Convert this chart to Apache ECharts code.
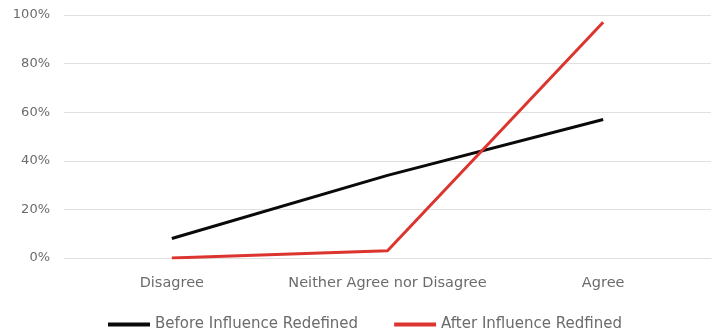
<!DOCTYPE html>
<html>
<head>
<meta charset="utf-8">
<script src="https://cdn.jsdelivr.net/npm/echarts@6/dist/echarts.min.js"></script>
<style>
  html, body { margin: 0; padding: 0; background: #fff; }
  #chart { width: 712px; height: 333px; }
</style>
</head>
<body>
<div id="chart"></div>
<script>
// Survey responses, share of respondents per answer
const categories = ['Disagree', 'Neither Agree nor Disagree', 'Agree'];
const beforeValues = [8, 34, 57];
const afterValues = [0, 3, 97];
const yTicks = [0, 20, 40, 60, 80, 100];
const seriesNames = ['Before Influence Redefined', 'After Influence Redfined'];

const chart = echarts.init(document.getElementById('chart'));
const textColor = '#6b6b6b';
const font = '"DejaVu Sans", sans-serif';

chart.setOption({
  animation: false,
  grid: { left: 64, right: 1, top: 15, bottom: 75 },
  legend: {
    bottom: -4,
    left: 103,
    itemWidth: 42,
    itemHeight: 4,
    itemGap: 36,
    icon: 'rect',
    textStyle: { color: textColor, fontSize: 15, fontFamily: font },
    data: seriesNames
  },
  xAxis: {
    type: 'category',
    data: categories,
    boundaryGap: true,
    axisLine: { show: true, lineStyle: { color: '#e0e0e0', width: 1 } },
    axisTick: { show: false },
    axisLabel: {
      color: textColor, fontSize: 14.5, fontFamily: font, margin: 18,
      interval: 0, hideOverlap: false
    }
  },
  yAxis: {
    type: 'value',
    min: yTicks[0],
    max: yTicks[yTicks.length - 1],
    interval: yTicks[1] - yTicks[0],
    axisLine: { show: false },
    axisTick: { show: false },
    splitLine: { lineStyle: { color: '#e0e0e0', width: 1 } },
    axisLabel: { color: textColor, fontSize: 13, fontFamily: font, margin: 14, formatter: '{value}%' }
  },
  series: [
    {
      name: seriesNames[0],
      type: 'line',
      data: beforeValues,
      symbol: 'none',
      lineStyle: { color: '#0a0a0a', width: 3 },
      itemStyle: { color: '#0a0a0a' }
    },
    {
      name: seriesNames[1],
      type: 'line',
      data: afterValues,
      symbol: 'none',
      lineStyle: { color: '#dc3530', width: 3 },
      itemStyle: { color: '#dc3530' }
    }
  ]
});
</script>
</body>
</html>
